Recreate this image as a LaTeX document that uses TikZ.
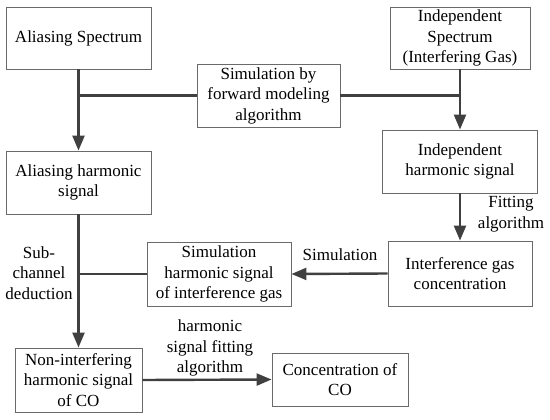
\documentclass[tikz,border=0pt]{standalone}
\usepackage{fontspec}
\setmainfont{Liberation Serif}
\usetikzlibrary{arrows.meta,positioning,calc}
\definecolor{fcline}{HTML}{404040}
\definecolor{fcbox}{HTML}{6A6A6A}
\tikzset{
  blockbox/.style={rectangle,draw=fcbox,line width=0.9pt,fill=white,
                   align=center,inner sep=2pt,
                   font=\fontsize{17}{20.5}\selectfont,text=black},
  lbl/.style={align=center,font=\fontsize{17}{20.5}\selectfont,text=black},
  flow/.style={-{Triangle[length=15pt,width=12pt]},line width=2.4pt,draw=fcline},
  tie/.style={line width=2.4pt,draw=fcline},
}
\begin{document}
\begin{tikzpicture}[x=1pt,y=-1pt]
\useasboundingbox (0,0) rectangle (550,420);
% boxes
\node[blockbox,minimum width=145pt,minimum height=62pt] (alias) at (78.5,38) {Aliasing Spectrum};
\node[blockbox,minimum width=140pt,minimum height=62pt] (indep) at (460,38) {Independent\\Spectrum\\(Interfering Gas)};
\node[blockbox,minimum width=143pt,minimum height=63pt] (simfwd) at (268.5,95.5) {Simulation by\\forward modeling\\algorithm};
\node[blockbox,minimum width=145pt,minimum height=63pt] (aliasharm) at (78.5,182.5) {Aliasing harmonic\\signal};
\node[blockbox,minimum width=155pt,minimum height=63pt] (indharm) at (460,161.5) {Independent\\harmonic signal};
\node[blockbox,minimum width=144pt,minimum height=65pt] (gasconc) at (460,273.5) {Interference gas\\concentration};
\node[blockbox,minimum width=144pt,minimum height=64pt] (simharm) at (219,274) {Simulation\\harmonic signal\\of interference gas};
\node[blockbox,minimum width=127pt,minimum height=64pt] (noninterf) at (78.5,380) {Non-interfering\\harmonic signal\\of CO};
\node[blockbox,minimum width=136pt,minimum height=53pt] (coconc) at (340,379.5) {Concentration of\\CO};
% connectors
\draw[flow] (alias.south) -- (aliasharm.north);
\draw[tie] (simfwd.west) -- (simfwd.west -| alias.south);
\draw[flow] (indep.south) -- (indharm.north);
\draw[tie] (simfwd.east) -- (simfwd.east -| indep.south);
\draw[flow] (indharm.south) -- (gasconc.north);
\draw[flow] (gasconc.west) -- (simharm.east);
\draw[flow] (aliasharm.south) -- (noninterf.north);
\draw[tie] (simharm.west) -- (simharm.west -| aliasharm.south);
\draw[flow] (noninterf.east) -- (coconc.west);
% labels
\node[lbl] (fitlbl) at (511,214) {Fitting\\algorithm};
\node[lbl] (simlbl) at (340,255) {Simulation};
\node[lbl] (sublbl) at (39,273) {Sub-\\channel\\deduction};
\node[lbl] (hsflbl) at (210,348) {harmonic\\signal fitting\\algorithm};
\end{tikzpicture}
\end{document}
